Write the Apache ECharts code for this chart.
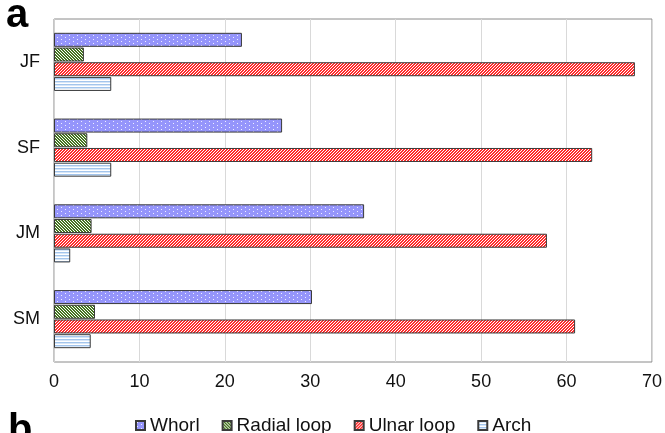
<!DOCTYPE html>
<html>
<head>
<meta charset="utf-8">
<script src="https://cdn.jsdelivr.net/npm/echarts@6/dist/echarts.min.js"></script>
<style>html,body{margin:0;padding:0;background:#fff;}#c{width:665px;height:433px;}</style>
</head>
<body>
<div id="c"></div>
<script>
const categories = ['JF', 'SF', 'JM', 'SM'];
const seriesNames = ['Whorl', 'Radial loop', 'Ulnar loop', 'Arch'];
const whorl = [22.0, 26.7, 36.3, 30.2];
const radialLoop = [3.5, 3.9, 4.4, 4.8];
const ulnarLoop = [68.0, 63.0, 57.7, 61.0];
const arch = [6.7, 6.7, 1.9, 4.3];
const xTicks = [0, 10, 20, 30, 40, 50, 60, 70];

function makePattern(w, h, draw) {
  const c = document.createElement('canvas');
  c.width = w; c.height = h;
  const ctx = c.getContext('2d');
  draw(ctx, w, h);
  return { image: c, repeat: 'repeat' };
}
const dotPat = makePattern(8, 4, (ctx, w, h) => {
  ctx.fillStyle = '#9595fb'; ctx.fillRect(0, 0, w, h);
  ctx.fillStyle = '#eeeeff';
  ctx.fillRect(1, 1, 1, 1); ctx.fillRect(5, 3, 1, 1);
});
const greenPat = makePattern(3, 3, (ctx, w, h) => {
  ctx.fillStyle = '#ffffff'; ctx.fillRect(0, 0, w, h);
  ctx.fillStyle = '#467522';
  for (let i = 0; i < 3; i++) {
    ctx.fillRect(i % 3, i, 1, 1);
    ctx.fillRect((i + 1) % 3, i, 1, 1);
  }
});
const redPat = makePattern(3, 3, (ctx, w, h) => {
  ctx.fillStyle = '#ffffff'; ctx.fillRect(0, 0, w, h);
  ctx.fillStyle = '#ff2b2b';
  for (let i = 0; i < 3; i++) {
    ctx.fillRect((3 - i) % 3, i, 1, 1);
    ctx.fillRect((4 - i) % 3, i, 1, 1);
  }
});
const archPat = makePattern(4, 3, (ctx, w, h) => {
  ctx.fillStyle = '#ffffff'; ctx.fillRect(0, 0, w, h);
  ctx.fillStyle = '#a3c5ec';
  ctx.fillRect(0, 0, w, 1);
  ctx.fillStyle = '#d6e6f8';
  ctx.fillRect(0, 1, w, 1);
});

const values = [whorl, radialLoop, ulnarLoop, arch];
const pats = [dotPat, greenPat, redPat, archPat];

const chart = echarts.init(document.getElementById('c'), null, { renderer: 'canvas' });
const FONT = '"Liberation Sans", Arial, sans-serif';
chart.setOption({
  animation: false,
  textStyle: { fontFamily: FONT },
  grid: {
    left: 54, right: 13, top: 19, bottom: 71,
    show: true, borderColor: '#8a8a8a', borderWidth: 1, backgroundColor: '#fff'
  },
  xAxis: {
    type: 'value', min: xTicks[0], max: xTicks[xTicks.length - 1], interval: 10,
    axisLine: { show: false }, axisTick: { show: false },
    splitLine: { show: true, lineStyle: { color: '#d9d9d9', width: 1 } },
    axisLabel: { fontSize: 18, color: '#111', margin: 11, fontFamily: FONT }
  },
  yAxis: {
    type: 'category', data: categories, inverse: true,
    axisLine: { show: true, lineStyle: { color: '#d0d0d0' } },
    axisTick: { show: false },
    axisLabel: { fontSize: 18, color: '#111', margin: 14, fontFamily: FONT }
  },
  legend: {
    data: seriesNames, left: 130, top: 411, itemWidth: 9, itemHeight: 9, itemGap: 22,
    textStyle: { fontSize: 19, color: '#111', fontFamily: FONT },
    icon: 'rect'
  },
  graphic: [
    { type: 'text', left: 6, top: -4, style: { text: 'a', font: 'bold 40px ' + FONT, fill: '#000' } },
    { type: 'text', left: 8, top: 411, style: { text: 'b', font: 'bold 40px ' + FONT, fill: '#000' } }
  ],
  series: seriesNames.map((name, i) => ({
    name: name, type: 'bar', data: values[i],
    barWidth: 14, barGap: '5%',
    itemStyle: { color: pats[i], borderColor: '#3a3a3a', borderWidth: 1 }
  }))
});
</script>
</body>
</html>
